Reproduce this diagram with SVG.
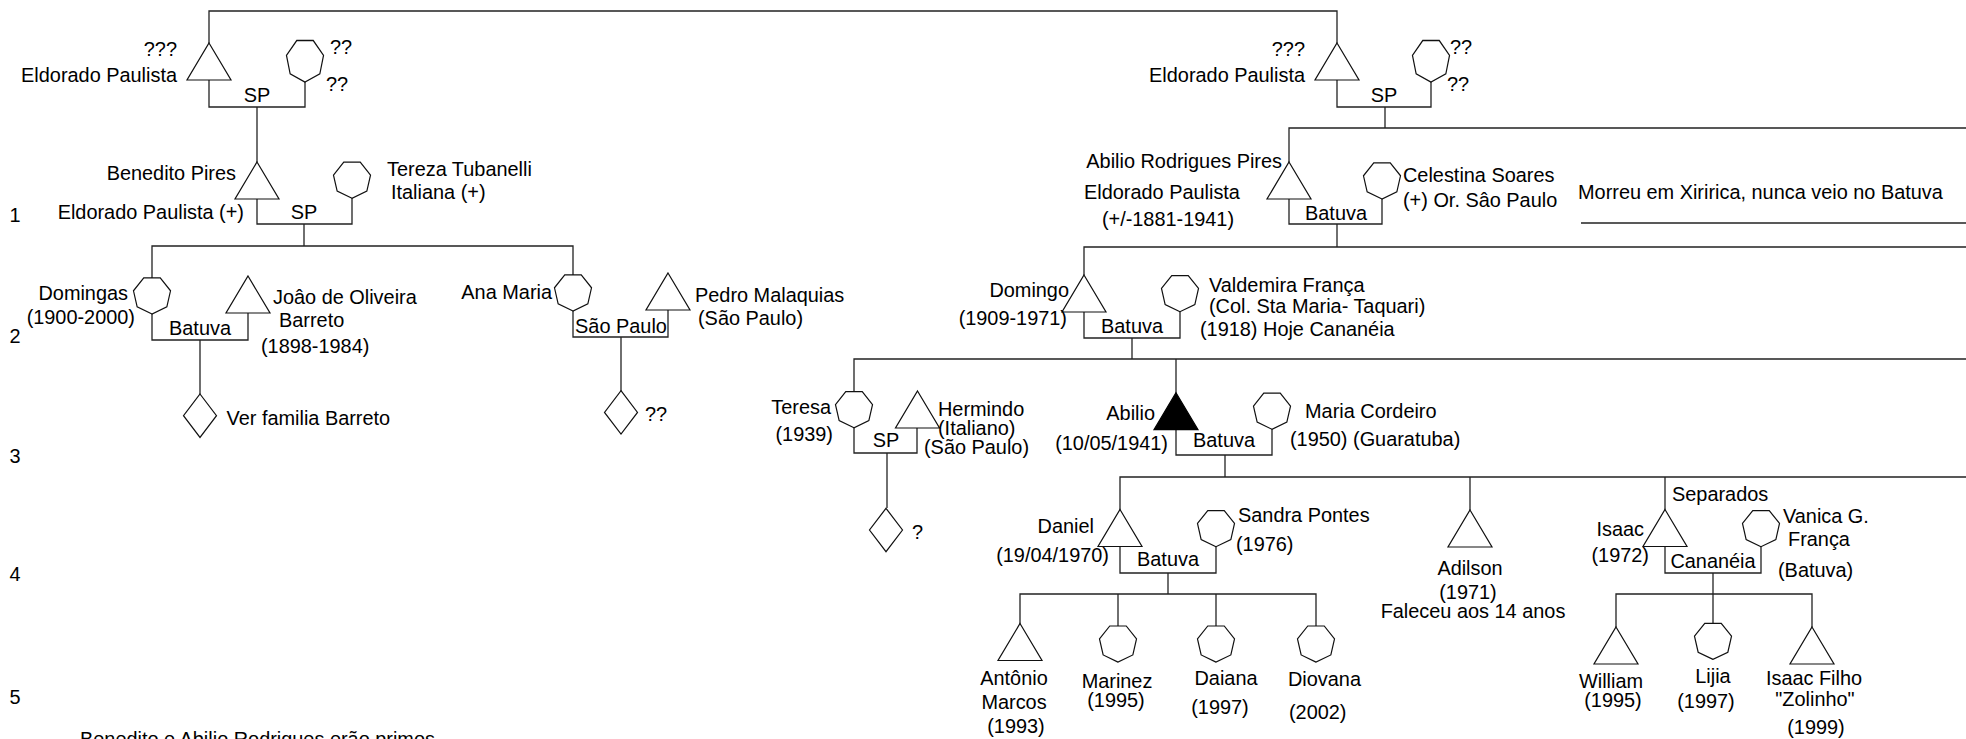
<svg xmlns="http://www.w3.org/2000/svg" xmlns:xlink="http://www.w3.org/1999/xlink" width="1966" height="739" viewBox="0 0 1966 739">
<style>
text{font-family:"Liberation Sans",Arial,sans-serif;font-size:19.9px;fill:#000}
.e{text-anchor:end}.m{text-anchor:middle}
.sh{fill:#fff;stroke:#111;stroke-width:1.2}
.blk{fill:#000;stroke:#000;stroke-width:1.2}
#connectors polyline,#connectors line{fill:none;stroke:#222;stroke-width:1.3}
</style>
<defs>
<polygon id="tri" points="0,0 22,37 -22,37"/>
<polygon id="hep" points="0,19 -14.85,11.85 -18.52,-4.23 -8.24,-17.12 8.24,-17.12 18.52,-4.23 14.85,11.85"/>
<polygon id="dia" points="0,-21.7 16.5,0 0,21.7 -16.5,0"/>
</defs>
<rect width="1966" height="739" fill="#fff"/>

<g id="connectors">
<polyline points="209,43 209,11 1337,11 1337,43"/>
<polyline points="209,80 209,107 305,107 305,82"/><line x1="257" y1="107" x2="257" y2="162"/>
<text class="m" x="257" y="102">SP</text>
<polyline points="257,199 257,224 352,224 352,198"/><line x1="304" y1="224" x2="304" y2="246"/>
<text class="m" x="304" y="219">SP</text>
<polyline points="152,278 152,246 573,246 573,275"/>
<polyline points="152,314 152,340 248,340 248,313"/><line x1="200" y1="340" x2="200" y2="394"/>
<text class="m" x="200" y="335">Batuva</text>
<polyline points="573,311 573,337 668,337 668,310"/><line x1="621" y1="337" x2="621" y2="391"/>
<text class="m" x="621" y="333">São Paulo</text>
<polyline points="1337,80 1337,107 1431,107 1431,82"/><line x1="1385" y1="107" x2="1385" y2="128"/>
<text class="m" x="1384" y="102">SP</text>
<polyline points="1289,162 1289,128 1966,128"/>
<polyline points="1289,199 1289,224 1382,224 1382,199"/><line x1="1337" y1="224" x2="1337" y2="247"/>
<text class="m" x="1336" y="220">Batuva</text>
<polyline points="1084,275 1084,247 1966,247"/>
<polyline points="1084,312 1084,338 1180,338 1180,312"/><line x1="1132" y1="338" x2="1132" y2="359"/>
<text class="m" x="1132" y="333">Batuva</text>
<polyline points="854,392 854,359 1966,359"/><line x1="1176" y1="359" x2="1176" y2="393"/>
<polyline points="854,428 854,453 917,453 917,428"/><line x1="887" y1="453" x2="887" y2="508"/>
<text class="m" x="886" y="447">SP</text>
<polyline points="1176,429 1176,455 1272,455 1272,429"/><line x1="1225" y1="455" x2="1225" y2="477"/>
<text class="m" x="1224" y="447">Batuva</text>
<polyline points="1120,510 1120,477 1966,477"/>
<line x1="1470" y1="477" x2="1470" y2="510"/><line x1="1665" y1="477" x2="1665" y2="510"/>
<polyline points="1120,547 1120,573 1216,573 1216,547"/><line x1="1168" y1="573" x2="1168" y2="594"/>
<text class="m" x="1168" y="566">Batuva</text>
<polyline points="1665,547 1665,573 1761,573 1761,547"/><line x1="1713" y1="573" x2="1713" y2="594"/>
<text class="m" x="1713" y="568">Cananéia</text>
<polyline points="1020,624 1020,594 1316,594 1316,626"/>
<line x1="1118" y1="594" x2="1118" y2="626"/><line x1="1216" y1="594" x2="1216" y2="626"/>
<polyline points="1616,627 1616,594 1812,594 1812,627"/><line x1="1713" y1="594" x2="1713" y2="623"/>
<line x1="1581" y1="223" x2="1966" y2="223"/>
</g>

<g id="n-l0-father"><use href="#tri" class="sh" x="209" y="43"/><text class="e" x="177" y="56">???</text><text class="e" x="177" y="82">Eldorado Paulista</text></g>
<g id="n-l0-mother"><use href="#hep" class="sh" transform="translate(305,60.2) scale(1,1.15)"/><text x="330" y="54">??</text><text x="326" y="91">??</text></g>
<g id="n-benedito"><use href="#tri" class="sh" x="257" y="162"/><text class="e" x="236" y="180">Benedito Pires</text><text class="e" x="244" y="219">Eldorado Paulista (+)</text></g>
<g id="n-tereza"><use href="#hep" class="sh" x="352" y="179.3"/><text x="387" y="176">Tereza Tubanelli</text><text x="391" y="199">Italiana (+)</text></g>
<g id="n-domingas"><use href="#hep" class="sh" x="152" y="295"/><text class="e" x="128" y="300">Domingas</text><text class="e" x="135" y="324">(1900-2000)</text></g>
<g id="n-joao"><use href="#tri" class="sh" x="248" y="276"/><text x="273" y="304">Joâo de Oliveira</text><text x="279" y="327">Barreto</text><text x="261" y="353">(1898-1984)</text></g>
<g id="n-barreto"><use href="#dia" class="sh" x="200" y="415.7"/><text x="226.5" y="425">Ver familia Barreto</text></g>
<g id="n-anamaria"><use href="#hep" class="sh" x="573" y="292"/><text class="e" x="552" y="299">Ana Maria</text></g>
<g id="n-pedro"><use href="#tri" class="sh" x="668" y="273"/><text x="695" y="302">Pedro Malaquias</text><text x="698" y="325">(São Paulo)</text></g>
<g id="n-anamaria-child"><use href="#dia" class="sh" x="621" y="412.4"/><text x="645" y="421">??</text></g>

<g id="n-r0-father"><use href="#tri" class="sh" x="1337" y="43"/><text class="e" x="1305" y="56">???</text><text class="e" x="1305" y="82">Eldorado Paulista</text></g>
<g id="n-r0-mother"><use href="#hep" class="sh" transform="translate(1431,60.2) scale(1,1.15)"/><text x="1450" y="54">??</text><text x="1447" y="91">??</text></g>
<g id="n-abilio-rp"><use href="#tri" class="sh" x="1289" y="162"/><text class="e" x="1282" y="168">Abilio Rodrigues Pires</text><text x="1084" y="199">Eldorado Paulista</text><text class="m" x="1168" y="226">(+/-1881-1941)</text></g>
<g id="n-celestina"><use href="#hep" class="sh" x="1382" y="180"/><text x="1403" y="182">Celestina Soares</text><text x="1403" y="207">(+) Or. Sâo Paulo</text></g>
<g id="n-note-xiririca"><text x="1578" y="199">Morreu em Xiririca, nunca veio no Batuva</text></g>
<g id="n-domingo"><use href="#tri" class="sh" x="1084" y="275"/><text class="e" x="1069" y="297">Domingo</text><text class="e" x="1067" y="325">(1909-1971)</text></g>
<g id="n-valdemira"><use href="#hep" class="sh" x="1180" y="292.7"/><text x="1209" y="292">Valdemira França</text><text x="1209" y="313">(Col. Sta Maria- Taquari)</text><text x="1200" y="336">(1918) Hoje Cananéia</text></g>
<g id="n-teresa"><use href="#hep" class="sh" x="854" y="408.8"/><text class="e" x="831" y="414">Teresa</text><text class="e" x="833" y="441">(1939)</text></g>
<g id="n-hermindo"><use href="#tri" class="sh" x="917.5" y="391"/><text x="938" y="416">Hermindo</text><text x="938" y="435">(Italiano)</text><text x="924" y="454">(São Paulo)</text></g>
<g id="n-teresa-child"><use href="#dia" class="sh" x="886" y="530"/><text x="912" y="539">?</text></g>
<g id="n-abilio"><use href="#tri" class="blk" x="1176" y="392.7"/><text class="e" x="1155" y="419.5">Abilio</text><text class="e" x="1168" y="450">(10/05/1941)</text></g>
<g id="n-maria"><use href="#hep" class="sh" x="1272" y="410.3"/><text x="1305" y="418">Maria Cordeiro</text><text x="1290" y="446">(1950) (Guaratuba)</text></g>
<g id="n-separados"><text x="1672" y="501">Separados</text></g>
<g id="n-daniel"><use href="#tri" class="sh" x="1120" y="509.5"/><text class="e" x="1094" y="533">Daniel</text><text class="e" x="1109" y="562">(19/04/1970)</text></g>
<g id="n-sandra"><use href="#hep" class="sh" x="1216" y="527.7"/><text x="1238" y="522">Sandra Pontes</text><text x="1236" y="551">(1976)</text></g>
<g id="n-adilson"><use href="#tri" class="sh" x="1470" y="510"/><text class="m" x="1470" y="575">Adilson</text><text class="m" x="1468" y="599">(1971)</text><text class="m" x="1473" y="618">Faleceu aos 14 anos</text></g>
<g id="n-isaac"><use href="#tri" class="sh" x="1665" y="509.5"/><text class="e" x="1644" y="536">Isaac</text><text class="e" x="1649" y="562">(1972)</text></g>
<g id="n-vanica"><use href="#hep" class="sh" x="1761" y="527.7"/><text x="1783" y="523">Vanica G.</text><text x="1788" y="546">França</text><text x="1778" y="577">(Batuva)</text></g>
<g id="n-antonio"><use href="#tri" class="sh" x="1020" y="623.5"/><text class="m" x="1014" y="685">Antônio</text><text class="m" x="1014" y="709">Marcos</text><text class="m" x="1016" y="733">(1993)</text></g>
<g id="n-marinez"><use href="#hep" class="sh" x="1118" y="643.1"/><text class="m" x="1117" y="688">Marinez</text><text class="m" x="1116" y="707">(1995)</text></g>
<g id="n-daiana"><use href="#hep" class="sh" x="1216" y="643.1"/><text class="m" x="1226" y="685">Daiana</text><text class="m" x="1220" y="714">(1997)</text></g>
<g id="n-diovana"><use href="#hep" class="sh" x="1316" y="643.1"/><text x="1288" y="686">Diovana</text><text x="1289" y="719">(2002)</text></g>
<g id="n-william"><use href="#tri" class="sh" x="1616" y="627"/><text class="m" x="1611" y="688">William</text><text class="m" x="1613" y="707">(1995)</text></g>
<g id="n-lijia"><use href="#hep" class="sh" x="1713" y="640.4"/><text class="m" x="1713" y="683">Lijia</text><text class="m" x="1706" y="708">(1997)</text></g>
<g id="n-isaacfilho"><use href="#tri" class="sh" x="1812" y="627"/><text class="m" x="1814" y="685">Isaac Filho</text><text class="m" x="1815" y="706">"Zolinho"</text><text class="m" x="1816" y="734">(1999)</text></g>

<g id="row-labels">
<text class="m" x="15" y="222">1</text><text class="m" x="15" y="343">2</text><text class="m" x="15" y="463">3</text><text class="m" x="15" y="581">4</text><text class="m" x="15" y="704">5</text>
<text x="80" y="746">Benedito e Abilio Rodrigues erão primos</text>
</g>
</svg>
